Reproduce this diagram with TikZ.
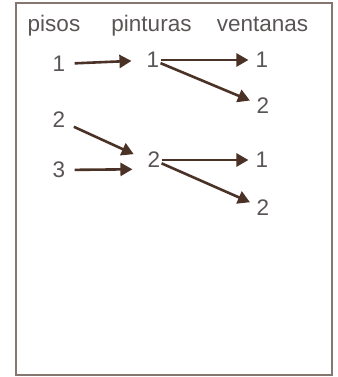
\documentclass[tikz,border=0pt]{standalone}
\usepackage{fontspec}
\setmainfont{Liberation Sans}
\usetikzlibrary{arrows.meta}

\definecolor{arrowbrown}{HTML}{4B3226}
\definecolor{framegray}{HTML}{857670}
\definecolor{textgray}{HTML}{5A5555}

\begin{document}
\begin{tikzpicture}[x=1pt,y=-1pt,->,>={Triangle[length=12pt,width=13pt]},
                    line width=2.6pt,draw=arrowbrown]
  \tikzstyle{every node}=[text=textgray,font=\fontsize{22.5}{26}\selectfont,
                          inner sep=0pt]
  \tikzstyle{head}=[anchor=base]
  \tikzstyle{from piso}=[shorten <=8pt]
  \tikzstyle{to pintura}=[shorten >=14pt]
  \tikzstyle{to ventana}=[shorten >=6pt]

  \useasboundingbox (0,0) rectangle (337,377);
  \draw[-,framegray,line width=1.2pt] (16,3) rectangle (332,375);

  \node[head] (hpisos) at (54,32)    {pisos};
  \node[head] (hpint)  at (151.5,32) {pinturas};
  \node[head] (hvent)  at (262.5,32) {ventanas};

  \node (p1) at (59,64)  {1};
  \node (p2) at (59,120) {2};
  \node (p3) at (59,170) {3};

  \node (t1) at (153,60)  {1};
  \node (t2) at (154,160) {2};

  \node (v11) at (262,60)  {1};
  \node (v12) at (263,106) {2};
  \node (v21) at (262,160) {1};
  \node (v22) at (263,208) {2};

  \path (p1) edge [from piso,to pintura] (t1)
        (p2) edge [from piso,to pintura] (t2.west)
        (p3) edge [from piso,to pintura] (t2.south west)
        (t1) edge [to ventana]           (v11)
             edge [to ventana]           (v12)
        (t2) edge [to ventana]           (v21)
             edge [to ventana]           (v22)
;

\end{tikzpicture}
\end{document}
